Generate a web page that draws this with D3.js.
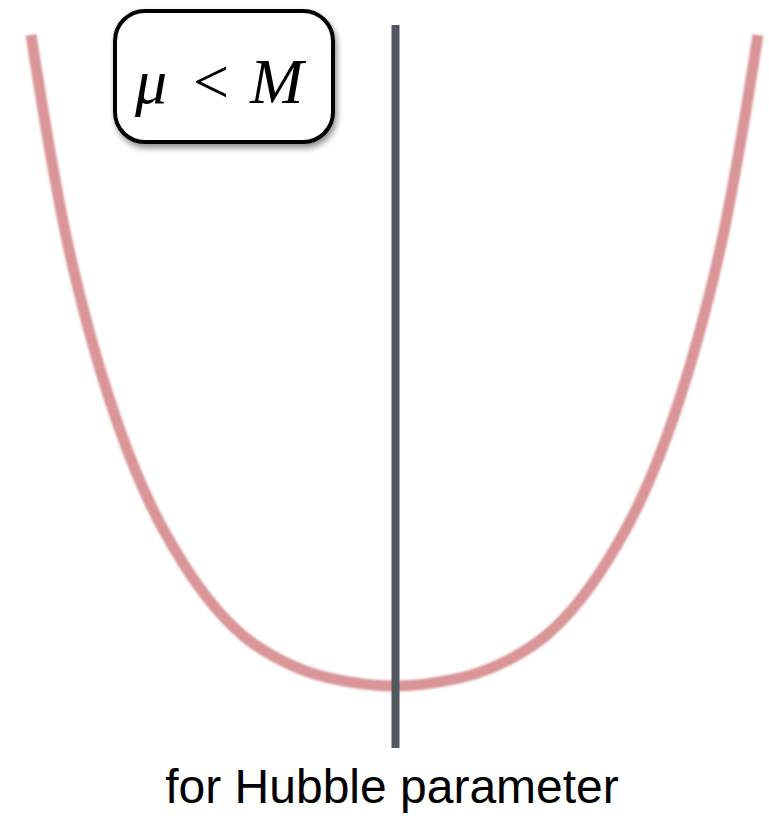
<!DOCTYPE html>
<html>
<head>
<meta charset="utf-8">
<script src="https://cdn.jsdelivr.net/npm/d3@7"></script>
<style>
  body { margin: 0; background: #fff; }
  svg { display: block; }
</style>
</head>
<body>
<div id="chart"></div>
<script>
// Potential curve (x: field value, y: potential, both normalised)
const curveX = [-1.0, -0.955, -0.905, -0.835, -0.784, -0.750, -0.674, -0.583, -0.50, -0.418, -0.33, -0.234, -0.12, 0,
                0.12, 0.234, 0.33, 0.418, 0.50, 0.583, 0.674, 0.750, 0.784, 0.835, 0.905, 0.955, 1.0];
const curveY = [1.0, 0.845, 0.695, 0.535, 0.44, 0.385, 0.282, 0.19, 0.125, 0.078, 0.045, 0.021, 0.006, 0,
                0.006, 0.021, 0.045, 0.078, 0.125, 0.19, 0.282, 0.385, 0.44, 0.535, 0.695, 0.845, 1.0];
const markerX = [0];            // vertical line position
const boxLabel = [
  { text: "μ", italic: true,  dx: 20 },
  { text: "<", italic: false, dx: 78 },
  { text: "M", italic: true,  dx: 135 }
];
const caption = "for Hubble parameter";

const width = 769;
const height = 819;

const svg = d3.select("#chart")
    .append("svg")
    .attr("width", width)
    .attr("height", height);

const defs = svg.append("defs");
defs.append("filter")
    .attr("id", "soft")
    .attr("x", "-10%").attr("y", "-10%")
    .attr("width", "120%").attr("height", "120%")
    .append("feGaussianBlur")
    .attr("stdDeviation", 1.1);

const shadow = defs.append("filter")
    .attr("id", "shadow")
    .attr("x", "-20%").attr("y", "-20%")
    .attr("width", "140%").attr("height", "150%");
shadow.append("feGaussianBlur").attr("in", "SourceAlpha").attr("stdDeviation", 3);
shadow.append("feOffset").attr("dx", 2).attr("dy", 4).attr("result", "blur");
shadow.append("feComponentTransfer").append("feFuncA").attr("type", "linear").attr("slope", 0.45);
const merge = shadow.append("feMerge");
merge.append("feMergeNode");
merge.append("feMergeNode").attr("in", "SourceGraphic");

// Scales
const xScale = d3.scaleLinear().domain([-1, 1]).range([31, 758]);
const yScale = d3.scaleLinear().domain([0, 1]).range([686, 35]);

const points = curveX.map((x, i) => [x, curveY[i]]);

const line = d3.line()
    .x(d => xScale(d[0]))
    .y(d => yScale(d[1]))
    .curve(d3.curveMonotoneX);

// Potential curve
svg.append("path")
    .datum(points)
    .attr("d", line)
    .attr("fill", "none")
    .attr("stroke", "#d99598")
    .attr("stroke-width", 11)
    .attr("filter", "url(#soft)");

// Vertical line
svg.selectAll(".marker")
    .data(markerX)
    .enter()
    .append("line")
    .attr("class", "marker")
    .attr("x1", d => xScale(d) + 1)
    .attr("x2", d => xScale(d) + 1)
    .attr("y1", 25)
    .attr("y2", 748)
    .attr("stroke", "#53575f")
    .attr("stroke-width", 8);

// Label box
const box = svg.append("g").attr("transform", "translate(115, 11)");
box.append("rect")
    .attr("width", 218)
    .attr("height", 131)
    .attr("rx", 30)
    .attr("ry", 30)
    .attr("fill", "#fff")
    .attr("stroke", "#000")
    .attr("stroke-width", 4)
    .attr("filter", "url(#shadow)");

box.selectAll(".lbl")
    .data(boxLabel)
    .enter()
    .append("text")
    .attr("class", "lbl")
    .attr("x", d => d.dx)
    .attr("y", 92)
    .attr("font-family", "'Liberation Serif', 'DejaVu Serif', serif")
    .attr("font-size", 64)
    .attr("font-style", d => d.italic ? "italic" : "normal")
    .text(d => d.text);

// Caption
svg.append("text")
    .attr("x", 392)
    .attr("y", 803)
    .attr("text-anchor", "middle")
    .attr("font-family", "'Liberation Sans', Arial, sans-serif")
    .attr("font-size", 48)
    .attr("fill", "#000")
    .text(caption);
</script>
</body>
</html>
